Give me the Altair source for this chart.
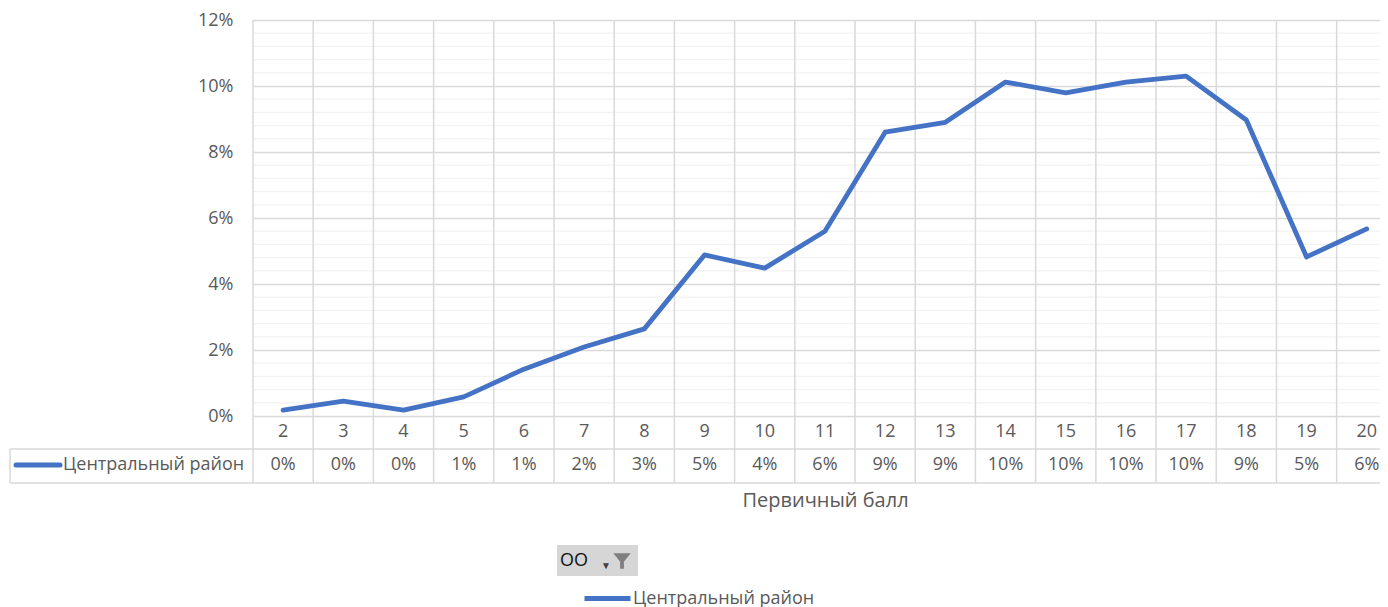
import altair as alt
import pandas as pd

# ---- data ----
categories = list(range(2, 21))
values = [0.0018, 0.0045, 0.0018, 0.0058, 0.0142, 0.0209, 0.0264, 0.0488, 0.0448, 0.0560,
          0.0860, 0.0890, 0.1012, 0.0979, 0.1012, 0.1030, 0.0897, 0.0482, 0.0567]
series_name = "Центральный район"
x_title = "Первичный балл"
y_ticks = [0, 0.02, 0.04, 0.06, 0.08, 0.10, 0.12]
filter_label = "OO"

# ---- styling ----
W, H = 1127, 396
FONT = "Open Sans"
TEXT = "#595959"
GRID = "#d9d9d9"
MINOR = "#f2f2f2"
BLUE = "#4472C4"
FS = 18

df = pd.DataFrame({"cat": categories, "val": values, "series": series_name})
bounds = pd.DataFrame({"cat": [c - 0.5 for c in categories]})
minor = pd.DataFrame({"val": [i * 0.004 for i in range(31) if i % 5]})
one = pd.DataFrame({"label": [series_name], "flt": [filter_label]})

xscale = alt.Scale(domain=[1.5, 20.22], nice=False, zero=False)
yscale = alt.Scale(domain=[0, 0.12], nice=False, zero=True)

xaxis = alt.Axis(labels=False, ticks=False, domain=False, grid=False,
                 title=x_title, titleFont=FONT, titleFontSize=20, titleColor=TEXT,
                 titleFontWeight="normal", titleX=572, titleY=84, titleBaseline="middle")
yaxis = alt.Axis(values=y_ticks, format=".0%", grid=True, gridColor=GRID, gridWidth=1.5,
                 ticks=False, domain=False, labelPadding=20, labelFontSize=FS,
                 labelFont=FONT, labelColor=TEXT, title=None)

X = alt.X("cat:Q", scale=xscale, axis=xaxis, title=x_title)
Y = alt.Y("val:Q", scale=yscale, axis=yaxis, title=None)

minor_rules = alt.Chart(minor).mark_rule(color=MINOR, strokeWidth=1.3).encode(
    y=Y, x=alt.value(0), x2=alt.value(W),
)

vrules = alt.Chart(bounds).mark_rule(color=GRID, strokeWidth=1.5).encode(
    x=X, y=alt.value(0), y2=alt.value(463),
)

hrule1 = alt.Chart(one).mark_rule(color=GRID, strokeWidth=1.5).encode(
    y=alt.value(429), x=alt.value(-243), x2=alt.value(W))
hrule2 = alt.Chart(one).mark_rule(color=GRID, strokeWidth=1.5).encode(
    y=alt.value(463), x=alt.value(-243), x2=alt.value(W))
vleft = alt.Chart(one).mark_rule(color=GRID, strokeWidth=1.5).encode(
    x=alt.value(-243), y=alt.value(429), y2=alt.value(463))

line = alt.Chart(df).mark_line(strokeWidth=4.8, strokeJoin="round", strokeCap="round").encode(
    x=X, y=Y,
    color=alt.Color("series:N", scale=alt.Scale(domain=[series_name], range=[BLUE]),
                    legend=alt.Legend(orient="none", legendX=329, legendY=553, title=None,
                                      symbolType="stroke", symbolSize=2116, symbolStrokeWidth=5,
                                      labelFont=FONT, labelFontSize=FS, labelColor=TEXT,
                                      labelOffset=0, padding=0, labelLimit=400)),
)

cat_text = alt.Chart(df).mark_text(font=FONT, fontSize=FS, color=TEXT, baseline="middle").encode(
    x=X, y=alt.value(412), text="cat:N")
val_text = alt.Chart(df).mark_text(font=FONT, fontSize=FS, color=TEXT, baseline="middle").encode(
    x=X, y=alt.value(445), text=alt.Text("val:Q", format=".0%"))

row_label = alt.Chart(one).mark_text(font=FONT, fontSize=FS, color=TEXT, align="left",
                                     baseline="middle").encode(
    x=alt.value(-190), y=alt.value(445), text="label:N")
row_sym = alt.Chart(one).mark_rule(color=BLUE, strokeWidth=5, strokeCap="round").encode(
    x=alt.value(-237), x2=alt.value(-193), y=alt.value(445))

btn = alt.Chart(one).mark_rect(fill="#d6d6d6").encode(
    x=alt.value(304), x2=alt.value(385), y=alt.value(525), y2=alt.value(556))
btn_text = alt.Chart(one).mark_text(font=FONT, fontSize=18, color="#111111", align="left",
                                    baseline="middle").encode(
    x=alt.value(307), y=alt.value(541), text="flt:N")
btn_arrow = alt.Chart(one).mark_text(font=FONT, fontSize=10, color="#404040", text="▼").encode(
    x=alt.value(353), y=alt.value(546))
funnel = alt.Chart(one).mark_point(
    shape="M-1,-0.9 L1,-0.9 L0.22,0.1 L0.22,0.9 L-0.22,0.9 L-0.22,0.1 Z",
    filled=True, fill="#7f7f7f", opacity=1, size=300, strokeWidth=0).encode(
    x=alt.value(369), y=alt.value(541))

chart = alt.layer(
    minor_rules, vrules, hrule1, hrule2, vleft, line, cat_text, val_text,
    row_sym, row_label, btn, btn_text, btn_arrow, funnel
).properties(
    width=W, height=H,
    padding={"left": 245, "top": 12, "right": 0, "bottom": 200},
    autosize=alt.AutoSizeParams(type="none"),
).configure_view(stroke=None)

chart.save("out.html", embed_options={"renderer": "svg", "actions": False})
